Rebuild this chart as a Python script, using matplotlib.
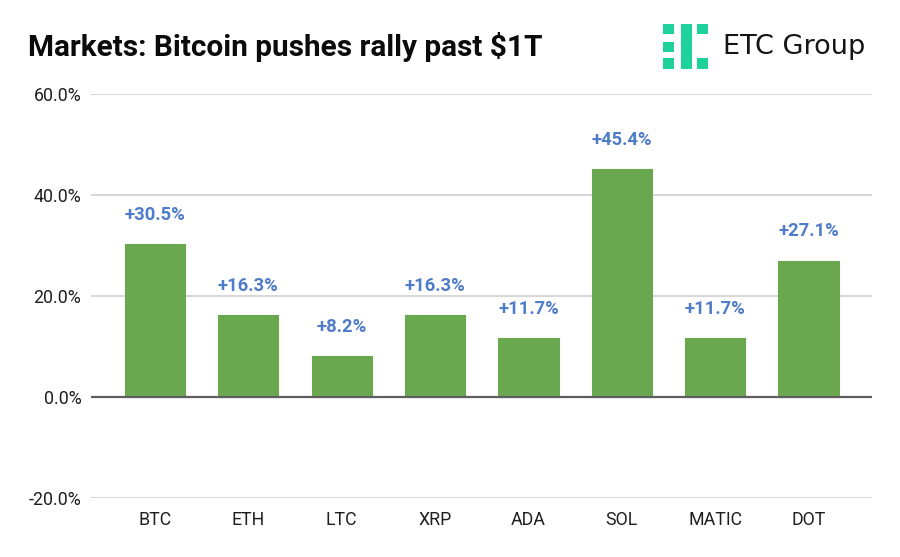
import matplotlib
matplotlib.use("Agg")
import matplotlib.pyplot as plt
from matplotlib.patches import Rectangle

categories = ["BTC", "ETH", "LTC", "XRP", "ADA", "SOL", "MATIC", "DOT"]
values = [30.5, 16.3, 8.2, 16.3, 11.7, 45.4, 11.7, 27.1]
bar_heights = [30.3, 16.3, 8.1, 16.3, 11.6, 45.2, 11.6, 27.0]
yticks = [-20, 0, 20, 40, 60]

plt.rcParams["font.family"] = ["Roboto", "DejaVu Sans"]
W, H = 900, 557
fig = plt.figure(figsize=(W / 100, H / 100), dpi=100, facecolor="white")

left, right, top, bottom = 91, 872, 94, 498
ax = fig.add_axes([left / W, 1 - bottom / H, (right - left) / W, (bottom - top) / H])
ax.set_xlim(-0.685, 7.68)
ax.set_ylim(-20, 60)
ax.set_facecolor("none")

x = list(range(len(categories)))
bars = ax.bar(x, bar_heights, width=0.645, color="#6aa84f", edgecolor="#6aa84f",
              linewidth=0.8, joinstyle="round", zorder=3)
for xi, h, v in zip(x, bar_heights, values):
    ax.annotate(f"+{v:.1f}%", (xi, h), xytext=(0, 21), textcoords="offset points",
                ha="center", va="center", color="#4f7cc9", fontsize=13.2, fontweight="bold", zorder=4)

ax.set_yticks(yticks)
ax.set_yticklabels([f"{t:.1f}%" for t in yticks])
ax.set_xticks(x)
ax.set_xticklabels(categories)
ax.tick_params(axis="both", length=0, labelsize=12.8, labelcolor="#1f1f1f")
ax.tick_params(axis="y", pad=7)
ax.tick_params(axis="x", pad=9.5)
ax.grid(axis="y", color="#cfcfcf", linewidth=1.2, zorder=0)
ax.set_axisbelow(True)
for s in ax.spines.values():
    s.set_visible(False)
ax.axhline(0, color="#5f5f5f", linewidth=1.6, zorder=5)

fig.text(28 / W, 1 - 47 / H, "Markets: Bitcoin pushes rally past $1T", fontsize=21.4,
         fontweight="bold", color="#0b0b0b", ha="left", va="center")

# Logo
green = "#1fd19a"
for (lx, ly, lw, lh) in [(663, 24, 11, 10), (663, 42, 11, 10), (663, 58, 11, 11),
                         (681, 24, 11, 45), (697, 24, 11, 10), (697, 58, 11, 11)]:
    fig.add_artist(Rectangle((lx / W, 1 - (ly + lh) / H), lw / W, lh / H,
                             transform=fig.transFigure, facecolor=green, edgecolor="none"))
fig.text(723 / W, 1 - 47 / H, "ETC Group", fontsize=19.5, family=["DejaVu Sans"],
         color="#151515", ha="left", va="center")

fig.savefig("out.png", dpi=100, facecolor="white")
